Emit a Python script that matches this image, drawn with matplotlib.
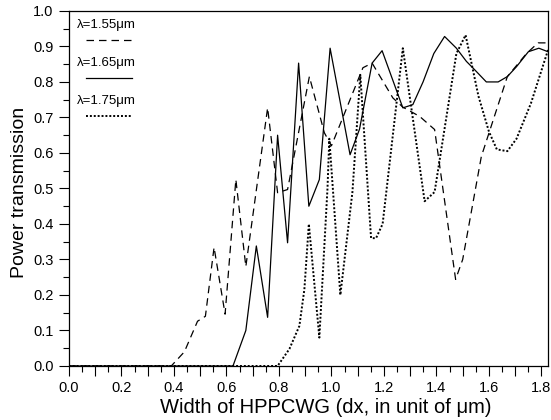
import numpy as np
import matplotlib
matplotlib.use("Agg")
import matplotlib.pyplot as plt
from matplotlib.ticker import MultipleLocator, FuncFormatter

plt.rcParams['font.family'] = ['Liberation Sans', 'DejaVu Sans']

# lambda = 1.55 um (dashed)
x155 = [0.0, 0.39, 0.44, 0.49, 0.52, 0.553, 0.595, 0.636, 0.674, 0.757, 0.795, 0.833,
        0.916, 0.973, 1.0, 1.12, 1.155, 1.234, 1.272, 1.336, 1.393, 1.473, 1.50, 1.571,
        1.67, 1.743, 1.787, 1.825]
y155 = [0.0, 0.0, 0.04, 0.126, 0.14, 0.334, 0.146, 0.525, 0.28, 0.727, 0.488, 0.497,
        0.815, 0.657, 0.62, 0.84, 0.853, 0.755, 0.729, 0.703, 0.666, 0.244, 0.30, 0.59,
        0.815, 0.88, 0.91, 0.91]

# lambda = 1.65 um (solid)
x165 = [0.0, 0.625, 0.674, 0.714, 0.757, 0.795, 0.833, 0.875, 0.914, 0.954, 0.995,
        1.071, 1.107, 1.155, 1.193, 1.272, 1.31, 1.349, 1.39, 1.431, 1.476, 1.514,
        1.546, 1.59, 1.635, 1.67, 1.705, 1.75, 1.79, 1.825]
y165 = [0.0, 0.0, 0.10, 0.338, 0.137, 0.65, 0.347, 0.853, 0.45, 0.525, 0.895,
        0.595, 0.667, 0.853, 0.888, 0.727, 0.736, 0.80, 0.88, 0.928, 0.895, 0.858,
        0.834, 0.80, 0.80, 0.815, 0.843, 0.885, 0.895, 0.885]

# lambda = 1.75 um (dotted)
x175 = [0.0, 0.795, 0.84, 0.878, 0.897, 0.914, 0.954, 0.985, 0.992, 1.034, 1.08, 1.11,
        1.151, 1.17, 1.195, 1.272, 1.355, 1.393, 1.476, 1.511, 1.56, 1.60, 1.63, 1.67,
        1.705, 1.76, 1.825]
y175 = [0.0, 0.0, 0.048, 0.113, 0.216, 0.40, 0.08, 0.50, 0.64, 0.20, 0.49, 0.82,
        0.36, 0.36, 0.40, 0.895, 0.464, 0.49, 0.88, 0.932, 0.76, 0.66, 0.61, 0.605,
        0.64, 0.74, 0.89]

labels = ['λ=1.55μm', 'λ=1.65μm', 'λ=1.75μm']

fig = plt.figure(figsize=(5.51, 4.20), dpi=100)
ax = fig.add_axes([0.125, 0.1286, 0.8696, 0.8454])

dash = (0, (6, 4))
dots = (0, (1, 1))
ax.plot(x155, y155, color='black', lw=0.9, linestyle=dash)
ax.plot(x165, y165, color='black', lw=0.9, linestyle='-')
ax.plot(x175, y175, color='black', lw=1.4, linestyle=dots)

# legend drawn by hand in axes coordinates
styles = [(dash, 0.9), ('-', 0.9), (dots, 1.4)]
text_y = [0.960, 0.852, 0.745]
line_y = [0.918, 0.812, 0.704]
for lab, (ls, lw), ty, ly in zip(labels, styles, text_y, line_y):
    ax.text(0.017, ty, lab, transform=ax.transAxes, fontsize=9.5, va='center', ha='left')
    ax.plot([0.035, 0.131], [ly, ly], transform=ax.transAxes, color='black',
            lw=lw, linestyle=ls)

ax.set_xlim(0, 1.825)
ax.set_ylim(0, 1.0)
ax.xaxis.set_major_locator(MultipleLocator(0.1))
ax.xaxis.set_minor_locator(MultipleLocator(0.05))
ax.xaxis.set_major_formatter(FuncFormatter(
    lambda v, p: f'{v:.1f}' if int(round(v * 10)) % 2 == 0 else ''))
ax.yaxis.set_major_locator(MultipleLocator(0.1))
ax.yaxis.set_minor_locator(MultipleLocator(0.05))
ax.yaxis.set_major_formatter(FuncFormatter(lambda v, p: f'{v:.1f}'))
ax.tick_params(which='major', direction='out', length=7, width=0.8, labelsize=10.5,
               pad=4)
ax.tick_params(which='minor', direction='out', length=4, width=0.8)
for s in ax.spines.values():
    s.set_linewidth(0.9)

ax.set_xlabel('Width of HPPCWG (dx, in unit of μm)', fontsize=14.5, labelpad=2, x=0.537)
ax.set_ylabel('Power transmission', fontsize=14, labelpad=4, y=0.49)

fig.savefig('out.png', dpi=100)
